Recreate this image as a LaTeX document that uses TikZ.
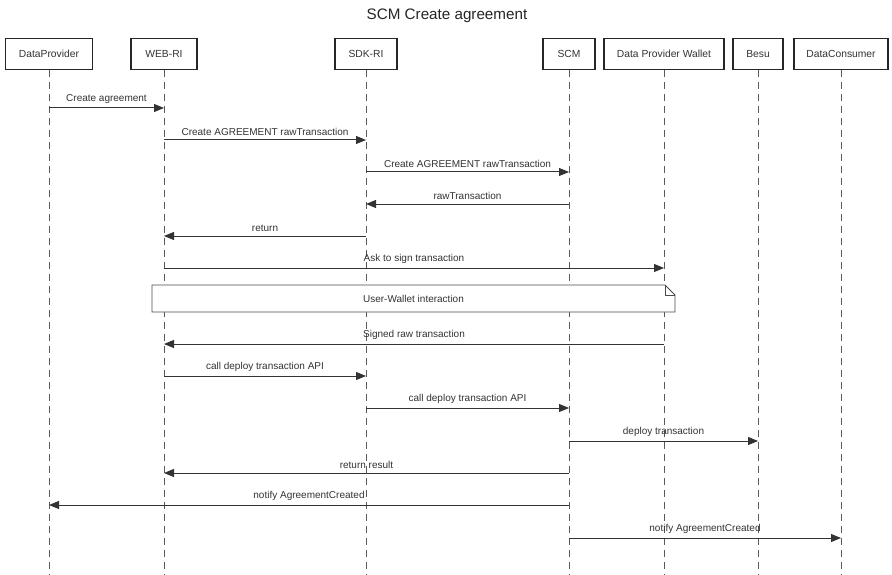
\documentclass[tikz,border=0pt]{standalone}
\usepackage{fontspec}
\setmainfont{Liberation Sans}
\usetikzlibrary{arrows.meta,calc}
\begin{document}
\begin{tikzpicture}[x=1pt,y=-1pt,
  actor/.style={draw=black!85,line width=1.8pt,fill=white,minimum height=31pt,
    inner xsep=6pt,font=\fontsize{10.3}{12}\selectfont,text=black!80},
  life/.style={draw=black!65,line width=0.8pt,dash pattern=on 7pt off 5pt},
  msg/.style={draw=black!80,line width=1pt,-{Triangle[length=10pt,width=8pt]}},
  lbl/.style={font=\fontsize{10}{12}\selectfont,text=black!80,inner sep=0pt,above=3.5pt},
  notebox/.style={draw=black!70,line width=0.8pt,fill=white}]
\useasboundingbox (0,0) rectangle (892,575);
\fill[white] (0,0) rectangle (892,575);

% title
\node[font=\fontsize{15.2}{17}\selectfont,text=black!85] (title) at (447,16) {SCM Create agreement};

% participants
\node[actor,minimum width=87pt] (dp)  at (49,54)  {DataProvider};
\node[actor,minimum width=66pt] (web) at (164,54) {WEB-RI};
\node[actor,minimum width=62pt] (sdk) at (366,54) {SDK-RI};
\node[actor,minimum width=52pt] (scm) at (569,54) {SCM};
\node[actor,minimum width=120pt] (wal) at (664,54) {Data Provider Wallet};
\node[actor,minimum width=50pt] (besu) at (758,54) {Besu};
\node[actor,minimum width=94pt] (dc)  at (841,54) {DataConsumer};

% lifelines
\coordinate (bottom) at (0,575);
\foreach \p in {dp,web,sdk,scm,wal,besu,dc}{
  \draw[life] (\p.south) -- (\p |- bottom);
}

% message rows
\foreach \n/\y in {1/108,2/140,3/172,4/204,5/236,6/268,8/344,9/376,10/408,11/441,12/473,13/505,14/538}{
  \coordinate (r\n) at (0,\y);
}

\draw[msg] (dp |- r1) -- node[lbl] {Create agreement} (web |- r1);
\draw[msg] (web |- r2) -- node[lbl] {Create AGREEMENT rawTransaction} (sdk |- r2);
\draw[msg] (sdk |- r3) -- node[lbl] {Create AGREEMENT rawTransaction} (scm |- r3);
\draw[msg] (scm |- r4) -- node[lbl] {rawTransaction} (sdk |- r4);
\draw[msg] (sdk |- r5) -- node[lbl] {return} (web |- r5);
\draw[msg] (web |- r6) -- node[lbl] {Ask to sign transaction} (wal |- r6);

% note spanning WEB-RI to the wallet, with a folded corner
\path[notebox] (152,285) -- (665,285) -- (675,295) -- (675,312) -- (152,312) -- cycle;
\draw[draw=black!70,line width=0.8pt] (665,285) -- (665,295) -- (675,295);
\node[font=\fontsize{10}{12}\selectfont,text=black!80] (note) at (413.5,298.5) {User-Wallet interaction};

\draw[msg] (wal |- r8) -- node[lbl] {Signed raw transaction} (web |- r8);
\draw[msg] (web |- r9) -- node[lbl] {call deploy transaction API} (sdk |- r9);
\draw[msg] (sdk |- r10) -- node[lbl] {call deploy transaction API} (scm |- r10);
\draw[msg] (scm |- r11) -- node[lbl] {deploy transaction} (besu |- r11);
\draw[msg] (scm |- r12) -- node[lbl] {return result} (web |- r12);
\draw[msg] (scm |- r13) -- node[lbl] {notify AgreementCreated} (dp |- r13);
\draw[msg] (scm |- r14) -- node[lbl] {notify AgreementCreated} (dc |- r14);
\end{tikzpicture}
\end{document}
